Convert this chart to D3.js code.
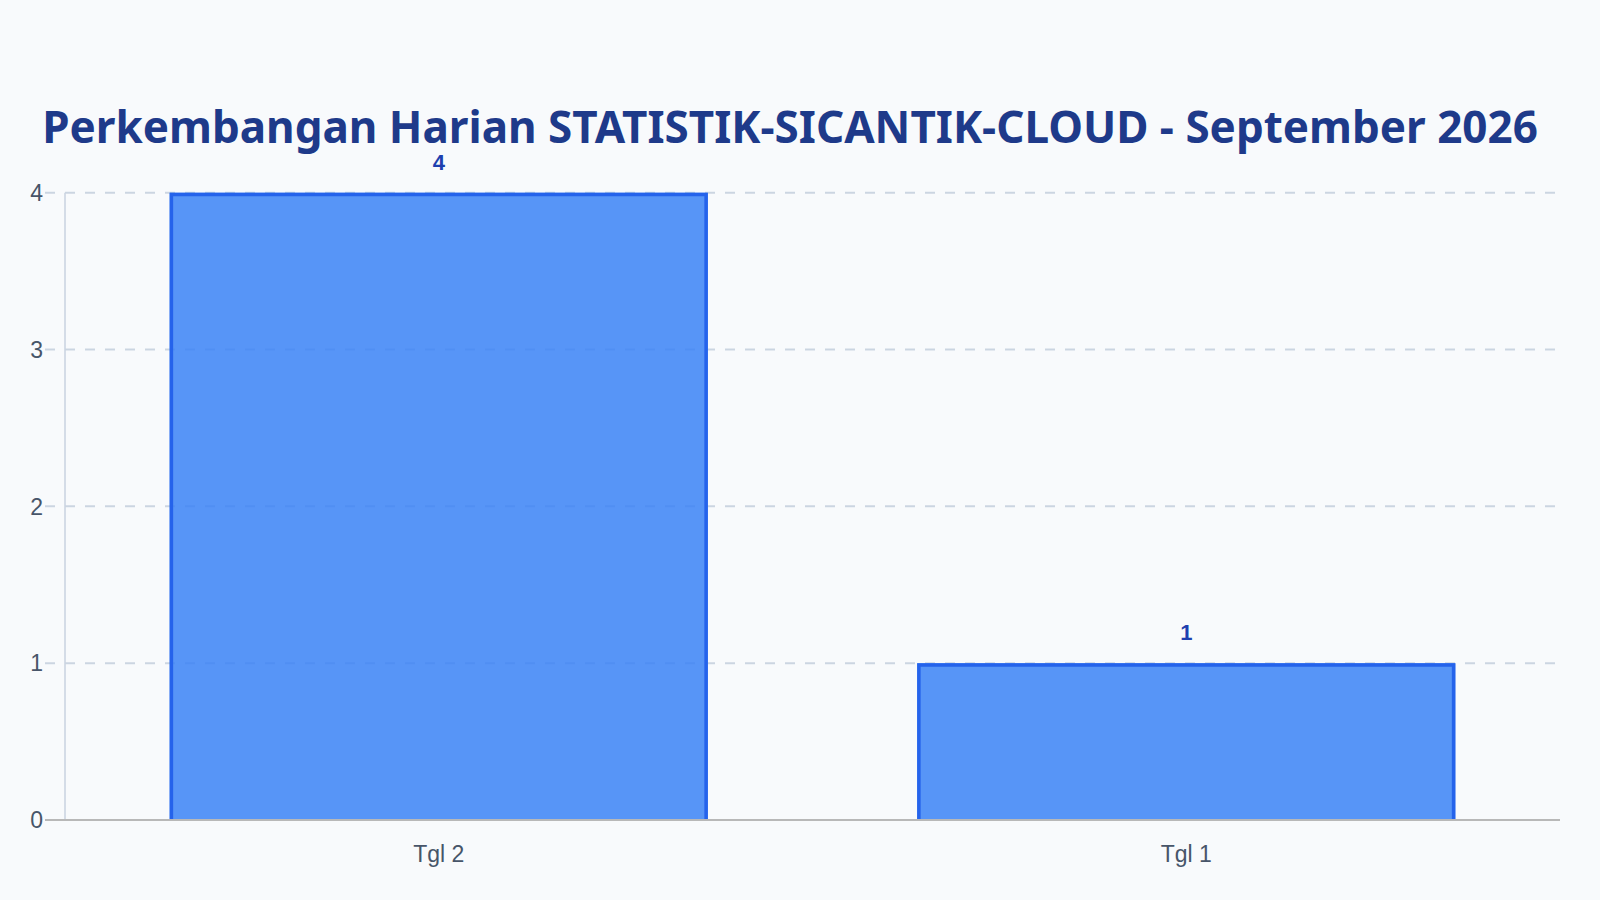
<!DOCTYPE html>
<html>
<head>
<meta charset="utf-8">
<script src="https://cdn.jsdelivr.net/npm/d3@7"></script>
<style>
  html, body { margin: 0; padding: 0; background: #f8fafc; }
  svg { display: block; }
</style>
</head>
<body>
<div class="chart"></div>
<script>
var categories = ["Tgl 2", "Tgl 1"];
var values = [4, 1];
var yTicks = [0, 1, 2, 3, 4];
var titleText = "Perkembangan Harian STATISTIK-SICANTIK-CLOUD - September 2026";

var width = 1600, height = 900;
var plotLeft = 65, plotRight = 1560, plotTop = 192.7, plotBottom = 820;

var svg = d3.select(".chart").append("svg")
    .attr("width", width)
    .attr("height", height);

svg.append("rect")
    .attr("width", width)
    .attr("height", height)
    .attr("fill", "#f8fafc");

var x = d3.scaleBand()
    .domain(categories)
    .range([plotLeft, plotRight])
    .paddingInner(0)
    .paddingOuter(0);

var y = d3.scaleLinear()
    .domain([0, 4])
    .range([plotBottom, plotTop]);

// grid
svg.append("g")
    .selectAll("line")
    .data(yTicks.filter(function(d){ return d > 0; }))
    .enter()
    .append("line")
    .attr("x1", 45)
    .attr("x2", 1556)
    .attr("y1", function(d){ return y(d); })
    .attr("y2", function(d){ return y(d); })
    .attr("stroke", "#cbd5e1")
    .attr("stroke-width", 2)
    .attr("stroke-dasharray", "10,10");

// y axis line
svg.append("line")
    .attr("x1", plotLeft).attr("x2", plotLeft)
    .attr("y1", y(4)).attr("y2", plotBottom)
    .attr("stroke", "#cbd5e1")
    .attr("stroke-width", 1.6);

// y tick labels
svg.append("g")
    .selectAll("text")
    .data(yTicks)
    .enter()
    .append("text")
    .attr("x", 43)
    .attr("y", function(d){ return y(d); })
    .attr("dy", "0.36em")
    .attr("text-anchor", "end")
    .attr("font-family", "'Liberation Sans', Arial, sans-serif")
    .attr("font-size", 23)
    .attr("fill", "#475569")
    .text(function(d){ return d; });

// bars
var barW = x.bandwidth() * 0.72;
var bw = 3.5;
var bars = svg.append("g")
    .selectAll("g")
    .data(values)
    .enter()
    .append("g");

bars.append("rect")
    .attr("x", function(d, i){ return x(categories[i]) + (x.bandwidth() - barW) / 2; })
    .attr("y", function(d){ return y(d); })
    .attr("width", barW)
    .attr("height", function(d){ return plotBottom - y(d); })
    .attr("fill", "rgba(59,130,246,0.85)");

bars.append("path")
    .attr("d", function(d, i){
        var x0 = x(categories[i]) + (x.bandwidth() - barW) / 2 + bw / 2;
        var x1 = x0 + barW - bw;
        var y0 = y(d) + bw / 2;
        return "M" + x0 + "," + plotBottom + "V" + y0 + "H" + x1 + "V" + plotBottom;
    })
    .attr("fill", "none")
    .attr("stroke", "#2563eb")
    .attr("stroke-width", bw);

// value labels
bars.append("text")
    .attr("x", function(d, i){ return x(categories[i]) + x.bandwidth() / 2; })
    .attr("y", function(d){ return y(d) - 23; })
    .attr("text-anchor", "middle")
    .attr("font-family", "'Liberation Sans', Arial, sans-serif")
    .attr("font-weight", "bold")
    .attr("font-size", 22)
    .attr("fill", "#1e40af")
    .text(function(d){ return d; });

// baseline
svg.append("line")
    .attr("x1", 45).attr("x2", plotRight)
    .attr("y1", plotBottom).attr("y2", plotBottom)
    .attr("stroke", "#b8b8b8")
    .attr("stroke-width", 2);

// x tick labels
svg.append("g")
    .selectAll("text")
    .data(categories)
    .enter()
    .append("text")
    .attr("x", function(d){ return x(d) + x.bandwidth() / 2; })
    .attr("y", 862)
    .attr("text-anchor", "middle")
    .attr("font-family", "'Liberation Sans', Arial, sans-serif")
    .attr("font-size", 23)
    .attr("fill", "#475569")
    .text(function(d){ return d; });

// title
svg.append("text")
    .attr("x", 790)
    .attr("y", 143)
    .attr("text-anchor", "middle")
    .attr("font-family", "'Noto Sans', 'Open Sans', sans-serif")
    .attr("font-weight", "bold")
    .attr("font-size", 44)
    .attr("fill", "#1e3a8a")
    .text(titleText);
</script>
</body>
</html>
